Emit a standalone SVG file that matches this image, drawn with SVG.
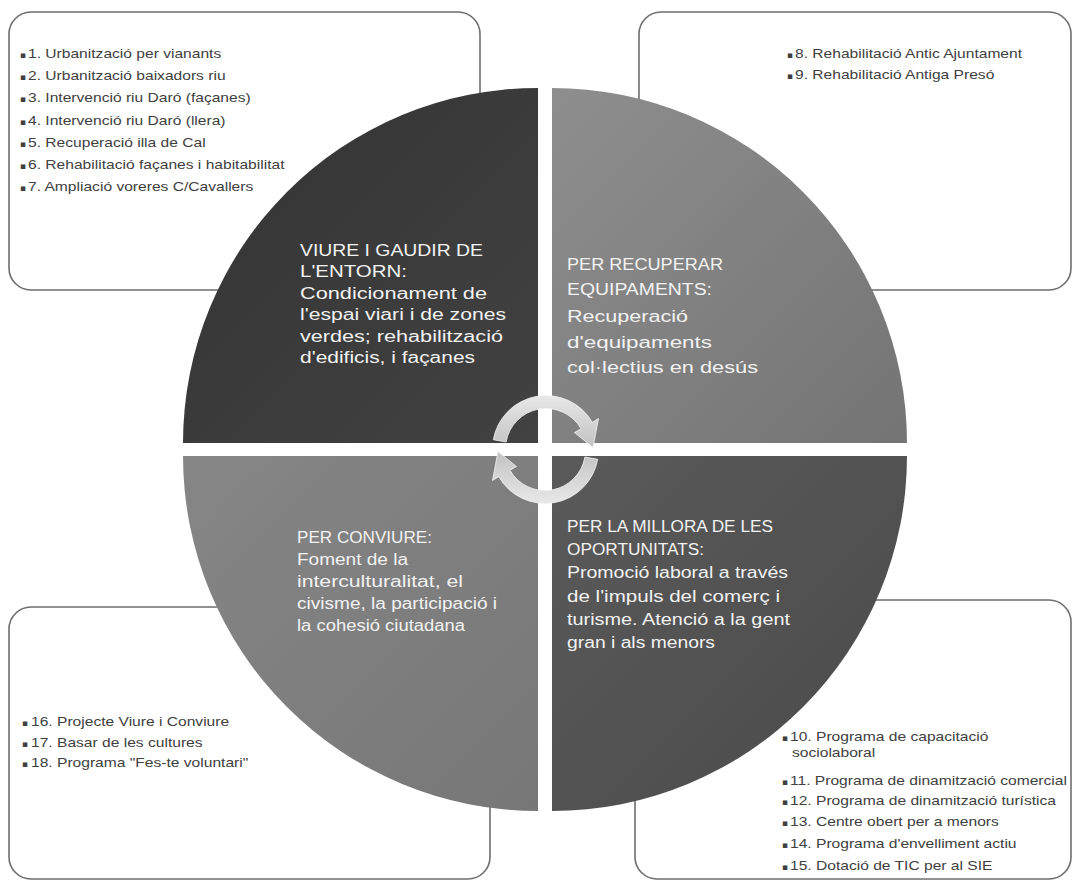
<svg xmlns="http://www.w3.org/2000/svg" width="1077" height="885" viewBox="0 0 1077 885">
<style>
.box{fill:#ffffff;stroke:#6e6e6e;stroke-width:1.6}
.bt{font-family:"Liberation Sans",Arial,sans-serif;font-size:12px;fill:#404040}
.bu{font-family:"DejaVu Sans",sans-serif;font-size:9px;fill:#404040}
.qt{font-family:"Liberation Sans",Arial,sans-serif;font-size:16px;fill:#f2f2f2}
</style>
<defs>
<linearGradient id="gTL" x1="0" y1="0" x2="1" y2="1"><stop offset="0" stop-color="#333333"/><stop offset="1" stop-color="#424242"/></linearGradient>
<linearGradient id="gTR" x1="0" y1="0" x2="1" y2="1"><stop offset="0" stop-color="#8e8e8e"/><stop offset="1" stop-color="#747474"/></linearGradient>
<linearGradient id="gBL" x1="0" y1="0" x2="1" y2="1"><stop offset="0" stop-color="#868686"/><stop offset="1" stop-color="#777777"/></linearGradient>
<linearGradient id="gBR" x1="0" y1="0" x2="1" y2="1"><stop offset="0" stop-color="#5a5a5a"/><stop offset="1" stop-color="#4a4a4a"/></linearGradient>
<linearGradient id="gAr" x1="0" y1="0" x2="0" y2="1"><stop offset="0" stop-color="#e8e8e8"/><stop offset="1" stop-color="#c2c2c2"/></linearGradient>
</defs>

<g id="box-tl">
<rect class="box" x="9" y="12" width="471" height="278" rx="22"/>
<text class="bu" x="20" y="58">▪</text><text class="bt" transform="translate(28,58) scale(1.3,1)">1. Urbanització per vianants</text>
<text class="bu" x="20" y="80">▪</text><text class="bt" transform="translate(28,80) scale(1.3,1)">2. Urbanització baixadors riu</text>
<text class="bu" x="20" y="102">▪</text><text class="bt" transform="translate(28,102) scale(1.3,1)">3. Intervenció riu Daró (façanes)</text>
<text class="bu" x="20" y="125">▪</text><text class="bt" transform="translate(28,125) scale(1.3,1)">4. Intervenció riu Daró (llera)</text>
<text class="bu" x="20" y="147">▪</text><text class="bt" transform="translate(28,147) scale(1.3,1)">5. Recuperació illa de Cal</text>
<text class="bu" x="20" y="169">▪</text><text class="bt" transform="translate(28,169) scale(1.3,1)">6. Rehabilitació façanes i habitabilitat</text>
<text class="bu" x="20" y="191">▪</text><text class="bt" transform="translate(28,191) scale(1.3,1)">7. Ampliació voreres C/Cavallers</text>
</g>

<g id="box-tr">
<rect class="box" x="639" y="12" width="432" height="278" rx="22"/>
<text class="bu" x="787" y="58">▪</text><text class="bt" transform="translate(795,58) scale(1.3,1)">8. Rehabilitació Antic Ajuntament</text>
<text class="bu" x="787" y="79">▪</text><text class="bt" transform="translate(795,79) scale(1.3,1)">9. Rehabilitació Antiga Presó</text>
</g>

<g id="box-bl">
<rect class="box" x="9" y="607" width="481" height="272" rx="22"/>
<text class="bu" x="22" y="726">▪</text><text class="bt" transform="translate(31,726) scale(1.3,1)">16. Projecte Viure i Conviure</text>
<text class="bu" x="22" y="747">▪</text><text class="bt" transform="translate(31,747) scale(1.3,1)">17. Basar de les cultures</text>
<text class="bu" x="22" y="767">▪</text><text class="bt" transform="translate(31,767) scale(1.3,1)">18. Programa "Fes-te voluntari"</text>
</g>

<g id="box-br">
<rect class="box" x="635" y="600" width="436" height="279" rx="22"/>
<text class="bu" x="782" y="741">▪</text><text class="bt" transform="translate(790,741) scale(1.3,1)">10. Programa de capacitació</text>
<text class="bt" transform="translate(792,757) scale(1.3,1)">sociolaboral</text>
<text class="bu" x="782" y="785">▪</text><text class="bt" transform="translate(790,785) scale(1.3,1)">11. Programa de dinamització comercial</text>
<text class="bu" x="782" y="805">▪</text><text class="bt" transform="translate(790,805) scale(1.3,1)">12. Programa de dinamització turística</text>
<text class="bu" x="782" y="826">▪</text><text class="bt" transform="translate(790,826) scale(1.3,1)">13. Centre obert per a menors</text>
<text class="bu" x="782" y="848">▪</text><text class="bt" transform="translate(790,848) scale(1.3,1)">14. Programa d'envelliment actiu</text>
<text class="bu" x="782" y="870">▪</text><text class="bt" transform="translate(790,870) scale(1.3,1)">15. Dotació de TIC per al SIE</text>
</g>

<g id="q-tl">
<path d="M538,443 L183,443 A355,355 0 0 1 538,88 Z" fill="url(#gTL)"/>
<text class="qt" x="300" y="256" textLength="183" lengthAdjust="spacingAndGlyphs">VIURE I GAUDIR DE</text>
<text class="qt" x="300" y="277" textLength="107" lengthAdjust="spacingAndGlyphs">L'ENTORN:</text>
<text class="qt" x="300" y="299" textLength="187" lengthAdjust="spacingAndGlyphs">Condicionament de</text>
<text class="qt" x="300" y="320" textLength="206" lengthAdjust="spacingAndGlyphs">l'espai viari i de zones</text>
<text class="qt" x="300" y="342" textLength="203" lengthAdjust="spacingAndGlyphs">verdes; rehabilització</text>
<text class="qt" x="300" y="363" textLength="175" lengthAdjust="spacingAndGlyphs">d'edificis, i façanes</text>
</g>

<g id="q-tr">
<path d="M552,443 L552,88 A355,355 0 0 1 907,443 Z" fill="url(#gTR)"/>
<text class="qt" x="567" y="270" textLength="156" lengthAdjust="spacingAndGlyphs">PER RECUPERAR</text>
<text class="qt" x="567" y="295" textLength="145" lengthAdjust="spacingAndGlyphs">EQUIPAMENTS:</text>
<text class="qt" x="567" y="322" textLength="121" lengthAdjust="spacingAndGlyphs">Recuperació</text>
<text class="qt" x="567" y="348" textLength="145" lengthAdjust="spacingAndGlyphs">d'equipaments</text>
<text class="qt" x="567" y="373" textLength="191" lengthAdjust="spacingAndGlyphs">col·lectius en  desús</text>
</g>

<g id="q-bl">
<path d="M538,456 L538,811 A355,355 0 0 1 183,456 Z" fill="url(#gBL)"/>
<text class="qt" x="297" y="543" textLength="135" lengthAdjust="spacingAndGlyphs">PER CONVIURE:</text>
<text class="qt" x="297" y="565" textLength="111" lengthAdjust="spacingAndGlyphs">Foment de la</text>
<text class="qt" x="297" y="587" textLength="166" lengthAdjust="spacingAndGlyphs">interculturalitat, el</text>
<text class="qt" x="297" y="609" textLength="200" lengthAdjust="spacingAndGlyphs">civisme, la participació i</text>
<text class="qt" x="297" y="631" textLength="168" lengthAdjust="spacingAndGlyphs">la cohesió ciutadana</text>
</g>

<g id="q-br">
<path d="M552,456 L907,456 A355,355 0 0 1 552,811 Z" fill="url(#gBR)"/>
<text class="qt" x="567" y="532" textLength="206" lengthAdjust="spacingAndGlyphs">PER LA MILLORA DE LES</text>
<text class="qt" x="567" y="555" textLength="137" lengthAdjust="spacingAndGlyphs">OPORTUNITATS:</text>
<text class="qt" x="567" y="578" textLength="221" lengthAdjust="spacingAndGlyphs">Promoció laboral a través</text>
<text class="qt" x="567" y="602" textLength="213" lengthAdjust="spacingAndGlyphs">de l'impuls del comerç i</text>
<text class="qt" x="567" y="625" textLength="223" lengthAdjust="spacingAndGlyphs">turisme. Atenció a la gent</text>
<text class="qt" x="567" y="648" textLength="148" lengthAdjust="spacingAndGlyphs">gran i als menors</text>
</g>

<g id="connectors">
<path d="M493.3,439.7 A53.5,53.5 0 0 1 592.3,422.3 L598.5,418.5 L593,447.4 L574.5,432.5 L581.1,428.8 A40.5,40.5 0 0 0 506.1,442 Z" fill="url(#gAr)" stroke="#f2f2f2" stroke-width="0.8"/>
<path d="M493.3,439.7 A53.5,53.5 0 0 1 592.3,422.3 L598.5,418.5 L593,447.4 L574.5,432.5 L581.1,428.8 A40.5,40.5 0 0 0 506.1,442 Z" fill="url(#gAr)" stroke="#f2f2f2" stroke-width="0.8" transform="rotate(180 545.5 449.5)"/>
</g>
</svg>
